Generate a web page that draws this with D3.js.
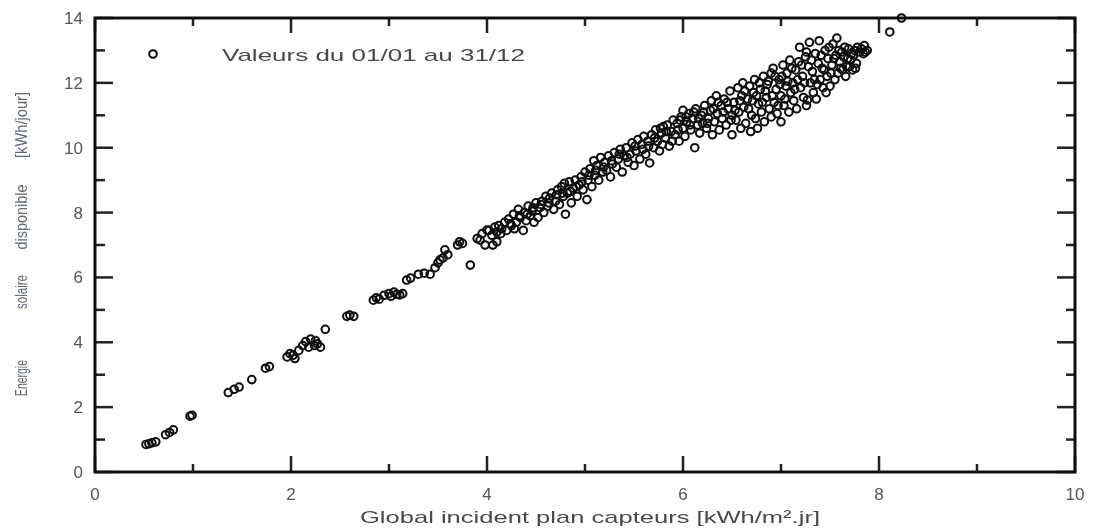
<!DOCTYPE html>
<html>
<head>
<meta charset="utf-8">
<script src="https://cdn.jsdelivr.net/npm/d3@7"></script>
<style>
  body { margin: 0; background: #fff; }
  svg { display: block; font-family: "Liberation Sans", Arial, sans-serif; }
</style>
</head>
<body>
<div id="chart"></div>
<script>
// Axis ticks
const xTicks = [0, 1, 2, 3, 4, 5, 6, 7, 8, 9, 10];
const yTicks = [0, 1, 2, 3, 4, 5, 6, 7, 8, 9, 10, 11, 12, 13, 14];

// Texts
const legendLabel = 'Valeurs du 01/01 au 31/12';
const xTitle = 'Global incident plan capteurs [kWh/m².jr]';
const yTitleWords = ['Energie', 'solaire', 'disponible', '[kWh/jour]'];

// [global incident, energie disponible]
const valeurs = [
  [0.52, 0.85], [0.55, 0.87], [0.58, 0.9], [0.62, 0.93], [0.72, 1.15], [0.76, 1.22], [0.8, 1.3],
  [0.97, 1.72], [0.99, 1.75],
  [1.36, 2.45], [1.42, 2.55], [1.47, 2.62], [1.6, 2.85], [1.74, 3.2], [1.78, 3.25],
  [1.96, 3.55], [1.99, 3.65], [2.02, 3.6], [2.04, 3.5], [2.08, 3.75],
  [2.12, 3.9], [2.15, 4.02], [2.18, 3.85], [2.2, 4.1], [2.24, 3.9], [2.27, 3.95], [2.3, 3.85],
  [2.25, 4.05], [2.35, 4.4],
  [2.57, 4.8], [2.6, 4.84], [2.64, 4.8], [2.84, 5.3], [2.87, 5.37], [2.9, 5.33], [2.95, 5.45],
  [3.0, 5.5], [3.02, 5.42], [3.05, 5.55], [3.08, 5.48], [3.11, 5.46], [3.14, 5.5], [3.18, 5.92],
  [3.22, 5.98], [3.3, 6.1], [3.36, 6.13], [3.42, 6.1], [3.47, 6.3], [3.5, 6.45], [3.52, 6.54],
  [3.55, 6.6], [3.57, 6.85], [3.6, 6.7], [3.7, 7.0], [3.72, 7.1], [3.75, 7.05], [3.83, 6.38],
  [3.9, 7.2], [3.93, 7.15], [3.95, 7.35], [3.98, 7.0], [4.0, 7.46], [4.06, 7.0], [4.1, 7.1],
  [4.02, 7.45], [4.05, 7.3], [4.08, 7.55], [4.1, 7.4],
  [4.12, 7.6], [4.15, 7.5], [4.18, 7.7], [4.2, 7.45], [4.14, 7.35],
  [4.22, 7.8], [4.25, 7.6], [4.27, 7.95], [4.3, 7.7], [4.28, 7.5], [4.24, 7.65],
  [4.32, 8.1], [4.34, 7.85], [4.37, 7.45], [4.38, 8.0], [4.4, 7.75], [4.33, 7.9],
  [4.42, 8.2], [4.44, 7.9], [4.46, 8.05], [4.48, 7.7], [4.5, 8.3], [4.41, 7.95], [4.47, 8.15],
  [4.52, 7.85], [4.54, 8.15], [4.56, 8.35], [4.58, 8.0], [4.6, 8.5], [4.55, 8.25],
  [4.62, 8.2], [4.64, 8.45], [4.66, 8.6], [4.68, 8.1], [4.7, 8.35], [4.63, 8.3],
  [4.72, 8.7], [4.74, 8.25], [4.76, 8.8], [4.78, 8.5], [4.8, 7.95], [4.79, 8.9], [4.71, 8.55], [4.77, 8.6],
  [4.82, 8.6], [4.84, 8.95], [4.86, 8.3], [4.88, 8.75], [4.9, 9.0], [4.85, 8.65],
  [4.92, 8.5], [4.94, 8.85], [4.96, 9.1], [4.98, 8.7], [5.0, 9.25], [4.91, 8.8], [4.97, 8.95],
  [5.02, 8.4], [5.03, 9.0], [5.05, 9.35], [5.07, 8.8], [5.09, 9.6], [5.1, 9.15], [5.04, 9.15],
  [5.12, 9.45], [5.14, 9.0], [5.16, 9.7], [5.18, 9.25], [5.2, 9.55], [5.11, 9.3], [5.19, 9.4],
  [5.22, 9.3], [5.24, 9.75], [5.26, 9.1], [5.28, 9.5], [5.3, 9.85], [5.27, 9.6],
  [5.32, 9.4], [5.34, 9.65], [5.36, 9.95], [5.38, 9.25], [5.4, 9.75], [5.35, 9.8],
  [5.42, 10.0], [5.44, 9.55], [5.46, 9.8], [5.48, 10.15], [5.5, 9.45], [5.43, 9.7],
  [5.52, 9.9], [5.54, 10.25], [5.56, 9.65], [5.58, 10.1], [5.6, 10.35], [5.51, 10.05], [5.59, 9.95],
  [5.62, 9.8], [5.64, 10.2], [5.66, 9.53], [5.68, 10.4], [5.7, 10.0], [5.65, 10.05],
  [5.72, 10.55], [5.74, 10.2], [5.76, 9.9], [5.78, 10.45], [5.8, 10.65], [5.79, 10.1], [5.71, 10.3], [5.77, 10.6],
  [5.82, 10.3], [5.84, 10.7], [5.86, 10.05], [5.88, 10.5], [5.9, 10.85], [5.83, 10.5], [5.89, 10.2],
  [5.92, 10.4], [5.94, 10.75], [5.96, 10.2], [5.98, 10.95], [6.0, 10.6], [6.0, 11.15], [5.95, 10.55], [5.97, 10.85],
  [6.02, 10.35], [6.04, 10.8], [6.06, 11.05], [6.08, 10.55], [6.1, 10.9], [6.03, 10.95], [6.07, 10.7],
  [6.12, 10.0], [6.13, 11.2], [6.15, 10.7], [6.17, 10.45], [6.19, 11.0], [6.2, 10.75], [6.11, 11.1], [6.16, 10.9],
  [6.22, 11.3], [6.24, 10.6], [6.26, 10.9], [6.28, 11.15], [6.3, 10.4], [6.29, 11.45], [6.21, 11.1], [6.25, 10.75],
  [6.32, 10.8], [6.34, 11.6], [6.35, 11.05], [6.37, 10.55], [6.39, 11.3], [6.4, 10.9], [6.31, 11.2], [6.36, 11.4],
  [6.42, 11.5], [6.44, 10.7], [6.46, 11.2], [6.48, 11.75], [6.5, 10.4], [6.5, 11.0], [6.41, 11.1], [6.45, 11.4], [6.49, 10.85],
  [6.52, 11.4], [6.54, 10.85], [6.56, 11.85], [6.57, 11.1], [6.59, 10.6], [6.6, 11.6], [6.53, 11.15], [6.58, 11.45],
  [6.61, 12.0], [6.62, 11.25], [6.64, 10.75], [6.66, 11.5], [6.68, 11.9], [6.7, 11.0], [6.69, 10.5], [6.63, 11.75], [6.67, 11.2],
  [6.72, 11.7], [6.73, 12.1], [6.74, 10.9], [6.76, 10.6], [6.77, 11.35], [6.79, 11.8], [6.8, 11.1], [6.71, 11.45], [6.75, 11.6], [6.78, 12.0],
  [6.82, 12.2], [6.83, 10.8], [6.85, 11.55], [6.86, 11.95], [6.88, 11.2], [6.9, 12.3], [6.9, 10.95], [6.81, 11.4], [6.84, 11.75], [6.87, 12.05],
  [6.92, 12.45], [6.93, 11.4], [6.95, 11.8], [6.96, 11.05], [6.98, 12.1], [7.0, 11.6], [7.0, 10.8], [6.91, 11.6], [6.94, 12.2], [6.97, 11.3], [6.99, 11.95],
  [7.02, 12.55], [7.03, 11.3], [7.05, 11.9], [7.06, 12.3], [7.08, 11.1], [7.1, 11.7], [7.09, 12.7], [7.01, 12.2], [7.04, 11.5], [7.07, 12.05],
  [7.12, 12.0], [7.13, 11.45], [7.15, 12.4], [7.16, 11.2], [7.18, 12.65], [7.2, 11.85], [7.19, 13.1], [7.11, 12.45], [7.14, 11.8], [7.17, 12.1],
  [7.22, 12.2], [7.23, 11.55], [7.25, 12.8], [7.26, 11.3], [7.27, 11.47], [7.28, 12.5], [7.3, 12.0], [7.29, 13.25], [7.21, 12.55], [7.24, 12.0], [7.26, 12.95],
  [7.32, 12.35], [7.33, 11.7], [7.35, 12.9], [7.36, 11.5], [7.38, 12.6], [7.4, 12.1], [7.39, 13.3], [7.31, 12.7], [7.34, 12.1], [7.37, 11.95],
  [7.42, 12.45], [7.43, 11.85], [7.45, 13.0], [7.46, 11.7], [7.47, 12.2], [7.48, 12.75], [7.5, 11.9], [7.41, 12.85], [7.44, 12.4], [7.49, 13.1],
  [7.52, 12.55], [7.53, 13.2], [7.55, 12.1], [7.56, 12.85], [7.57, 13.38], [7.58, 12.3], [7.6, 12.65], [7.51, 12.3], [7.54, 12.75], [7.59, 13.0],
  [7.62, 12.95], [7.63, 12.4], [7.65, 13.1], [7.66, 12.2], [7.68, 12.75], [7.7, 12.5], [7.61, 12.45], [7.64, 12.8], [7.67, 12.5], [7.69, 13.05],
  [7.72, 12.9], [7.73, 12.4], [7.75, 13.0], [7.76, 12.45], [7.78, 13.1], [7.8, 12.95], [7.71, 12.7], [7.74, 12.85], [7.77, 12.6],
  [7.82, 13.05], [7.84, 12.9], [7.86, 12.95], [7.88, 13.0], [7.85, 13.15],
  [8.11, 13.57], [8.23, 14.0]
];

const width = 1094, height = 529;
const margin = { top: 18, right: 19, bottom: 57, left: 95 };

const svg = d3.select('#chart').append('svg')
  .attr('width', width)
  .attr('height', height);

// slight blur, the original is a low resolution scan
svg.append('defs').append('filter')
  .attr('id', 'soft')
  .append('feGaussianBlur')
  .attr('stdDeviation', 0.55);

const root = svg.append('g').attr('filter', 'url(#soft)');

const x = d3.scaleLinear().domain([0, 10]).range([margin.left, width - margin.right]);
const y = d3.scaleLinear().domain([0, 14]).range([height - margin.bottom, margin.top]);

const isMajor = v => v % 2 === 0;

// tick marks, pointing inwards on the four sides
const ticks = root.append('g')
  .attr('stroke', '#222')
  .attr('stroke-width', 2.5);

ticks.selectAll('.xb').data(xTicks).join('line')
  .attr('x1', d => x(d)).attr('x2', d => x(d))
  .attr('y1', y(0)).attr('y2', d => y(0) - (isMajor(d) ? 16 : 8));

ticks.selectAll('.xt').data(xTicks).join('line')
  .attr('x1', d => x(d)).attr('x2', d => x(d))
  .attr('y1', y(14)).attr('y2', d => y(14) + (isMajor(d) ? 15 : 8));

ticks.selectAll('.yl').data(yTicks).join('line')
  .attr('y1', d => y(d)).attr('y2', d => y(d))
  .attr('x1', x(0)).attr('x2', d => x(0) + (isMajor(d) ? 18 : 10));

ticks.selectAll('.yr').data(yTicks).join('line')
  .attr('y1', d => y(d)).attr('y2', d => y(d))
  .attr('x1', x(10)).attr('x2', d => x(10) - (isMajor(d) ? 18 : 9));

// tick labels
root.append('g')
  .selectAll('text')
  .data(xTicks.filter(isMajor))
  .join('text')
  .attr('x', d => x(d))
  .attr('y', y(0) + 28)
  .attr('text-anchor', 'middle')
  .attr('fill', '#555')
  .attr('font-size', 17)
  .text(d => d);

root.append('g')
  .selectAll('text')
  .data(yTicks.filter(isMajor))
  .join('text')
  .attr('x', x(0) - 12)
  .attr('y', d => y(d) + 6)
  .attr('text-anchor', 'end')
  .attr('fill', '#555')
  .attr('font-size', 17)
  .text(d => d);

// frame
root.append('rect')
  .attr('x', x(0))
  .attr('y', y(14))
  .attr('width', x(10) - x(0))
  .attr('height', y(0) - y(14))
  .attr('fill', 'none')
  .attr('stroke', '#111')
  .attr('stroke-width', 3);

// points
root.append('g')
  .selectAll('circle')
  .data(valeurs)
  .join('circle')
  .attr('cx', d => x(d[0]))
  .attr('cy', d => y(d[1]))
  .attr('r', 3.8)
  .attr('fill', 'none')
  .attr('stroke', '#0a0a0a')
  .attr('stroke-width', 2);

// legend
root.append('circle')
  .attr('cx', 153)
  .attr('cy', 54)
  .attr('r', 3.8)
  .attr('fill', 'none')
  .attr('stroke', '#0a0a0a')
  .attr('stroke-width', 2);

root.append('text')
  .attr('x', 222)
  .attr('y', 61)
  .attr('fill', '#4a4a4a')
  .attr('font-size', 17)
  .attr('textLength', 303)
  .attr('lengthAdjust', 'spacingAndGlyphs')
  .text(legendLabel);

// axis titles
root.append('text')
  .attr('x', 590)
  .attr('y', 523)
  .attr('text-anchor', 'middle')
  .attr('fill', '#4a4a4a')
  .attr('font-size', 17)
  .attr('textLength', 460)
  .attr('lengthAdjust', 'spacingAndGlyphs')
  .text(xTitle);

// y title: words spread along the axis as in the original
const wordCenters = [378, 292, 217, 125];
const wordLengths = [36, 34, 65, 66];
root.append('g')
  .selectAll('text')
  .data(yTitleWords)
  .join('text')
  .attr('transform', (d, i) => `translate(27,${wordCenters[i]}) rotate(-90)`)
  .attr('text-anchor', 'middle')
  .attr('fill', '#5f6677')
  .attr('font-size', 16)
  .attr('textLength', (d, i) => wordLengths[i])
  .attr('lengthAdjust', 'spacingAndGlyphs')
  .text(d => d);
</script>
</body>
</html>
